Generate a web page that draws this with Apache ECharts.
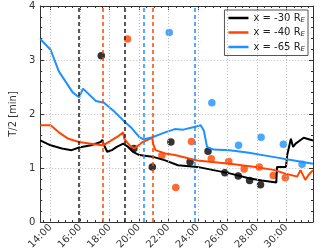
<!DOCTYPE html>
<html><head><meta charset="utf-8">
<script src="https://cdn.jsdelivr.net/npm/echarts@6/dist/echarts.min.js"></script>
<style>html,body{margin:0;padding:0;background:#fff}#c{width:320px;height:252px}</style>
</head><body><div id="c"></div>
<script>
// x in hours (UT, continuing past 24), y = T/2 in minutes
const xTicks = [14,16,18,20,22,24,26,28,30];
const xMinorTicks = [13.5,14.5,15,15.5,16.5,17,17.5,18.5,19,19.5,20.5,21,21.5,22.5,23,23.5,24.5,25,25.5,26.5,27,27.5,28.5,29,29.5,30.5,31,31.5];
const yTicks = [0,1,2,3,4];
const seriesNames = ['x = -30 R', 'x = -40 R', 'x = -65 R'];

const blackT = [13.3,14.0,14.77,15.43,15.93,16.74,17.4,17.51,17.6,17.84,18.16,18.49,18.93,19.26,19.59,20.02,20.9,21.77,22.64,23.95,25.05,26.15,27.45,28.33,29.31,29.36,29.97,30.05,30.3,30.45,30.62,31.17,31.8];
const blackV = [1.51,1.42,1.36,1.33,1.38,1.42,1.48,1.52,1.44,1.30,1.33,1.39,1.45,1.39,1.30,1.24,1.21,1.14,1.05,1.02,0.96,0.90,0.81,0.77,0.73,1.02,1.02,1.24,1.54,1.39,1.45,1.56,1.51];

const redT = [13.3,14.0,14.56,15.21,15.93,16.74,17.51,17.7,18.49,18.93,19.0,19.36,19.69,20.24,20.9,20.95,21.11,21.77,22.43,23.95,26.15,27.9,29.2,29.86,30.73,30.95,31.28,31.5,31.8];
const redV = [1.79,1.79,1.66,1.54,1.48,1.45,1.42,1.44,1.57,1.66,1.54,1.42,1.36,1.48,1.56,1.45,1.33,1.27,1.24,1.14,1.08,1.02,0.96,0.90,0.84,0.96,0.78,0.87,0.96];

const blueT = [13.3,14.0,14.56,15.5,15.93,16.2,17.07,17.62,18.38,19.04,19.5,20.02,20.3,20.9,21.77,22.43,23.0,23.74,24.18,24.4,24.61,25.05,26.15,27.45,28.98,30.51,31.8];
const blueV = [3.39,3.19,2.79,2.40,2.31,2.47,2.24,2.21,2.03,1.85,1.74,1.57,1.53,1.57,1.66,1.72,1.71,1.76,1.79,1.69,1.39,1.34,1.33,1.28,1.21,1.14,1.08];

const blackPtT = [17.44,19.65,20.9,22.16,23.46,24.68,25.82,26.73,27.5,28.24];
const blackPtV = [3.08,1.36,1.02,1.48,1.11,1.31,0.91,0.85,0.77,0.69];
const redPtT = [19.22,21.55,22.49,23.56,24.9,26.08,27.13,28.15,29.1,29.92];
const redPtV = [3.39,1.23,0.64,1.49,1.17,1.12,0.98,1.02,0.86,0.82];
const bluePtT = [22.05,24.94,26.75,28.28,29.79,31.06];
const bluePtV = [3.51,2.21,1.42,1.57,1.44,1.07];

const blackEvents = [15.91,19.0];
const redEvents = [17.51,20.9];
const blueEvents = [20.31,23.8];

const colors = ['#000000','#ff4500','#1e90ff'];
const pair = (t,v) => t.map((x,i)=>[x,v[i]]);

const font = 'DejaVu Sans';
const tickColor = '#333';

function events(list,color){
  return {type:'line',data:[],silent:true,
    markLine:{symbol:'none',silent:true,label:{show:false},animation:false,
      lineStyle:{color:color,type:[4,3],width:1.5},
      data:list.map(v=>({xAxis:v}))}};
}
function xTickAxis(pos,vals,len,showLine){
  return {type:'value',min:13.3,max:31.8,position:pos,
    axisLine:{show:showLine,onZero:false,lineStyle:{color:tickColor}},
    axisTick:{inside:true,length:len,lineStyle:{color:tickColor},customValues:vals},
    axisLabel:{show:false},splitLine:{show:false},minorTick:{show:false}};
}

const chart = echarts.init(document.getElementById('c'));
chart.setOption({
  animation:false,
  textStyle:{fontFamily:font},
  grid:{left:31,right:7,top:6,bottom:29},
  legend:{
    orient:'vertical',right:12,top:10,
    data:seriesNames.map(n=>({name:n,icon:'rect'})),
    itemWidth:20,itemHeight:2.5,itemGap:4,
    borderColor:'#555',borderWidth:1,padding:[3,3,3,4],
    backgroundColor:'#fff',
    textStyle:{fontSize:10,color:'#222',fontFamily:font,
      rich:{s:{fontSize:7,fontStyle:'italic',verticalAlign:'bottom',padding:[4,0,0,0]}}},
    formatter:n=>n+'{s|E}'
  },
  xAxis:[{
    type:'value',min:13.3,max:31.8,
    axisLine:{lineStyle:{color:tickColor,width:1}},
    axisTick:{inside:true,length:4,lineStyle:{color:tickColor},customValues:xTicks},
    minorTick:{show:false},
    splitLine:{show:false},
    axisLabel:{customValues:xTicks,rotate:45,fontSize:10,color:'#333',margin:4,
      formatter:v=>v+':00'}
  },
  xTickAxis('top',xTicks,4,true),
  xTickAxis('bottom',xMinorTicks,2,false),
  xTickAxis('top',xMinorTicks,2,false)
  ],
  yAxis:[{
    type:'value',min:0,max:4,interval:1,
    axisLine:{lineStyle:{color:tickColor,width:1}},
    axisTick:{inside:true,length:4,lineStyle:{color:tickColor}},
    minorTick:{show:true,splitNumber:5,length:2,lineStyle:{color:tickColor}},
    splitLine:{show:true,lineStyle:{color:'#bbb',type:[1,2],width:1}},
    name:'T/2 [min]',nameLocation:'middle',nameGap:17,
    nameTextStyle:{fontSize:10,color:'#333'},
    axisLabel:{fontSize:10,color:'#333',margin:5}
  },{
    type:'value',min:0,max:4,interval:1,position:'right',
    axisLine:{show:true,lineStyle:{color:tickColor}},
    axisTick:{inside:true,length:4,lineStyle:{color:tickColor}},
    minorTick:{show:true,splitNumber:5,length:2,lineStyle:{color:tickColor}},
    axisLabel:{show:false},splitLine:{show:false}
  }],
  series:[
    {type:'line',data:[],silent:true,
      markLine:{symbol:'none',silent:true,label:{show:false},
        lineStyle:{color:'#bbb',type:[1,2],width:1},
        data:xTicks.map(v=>({xAxis:v}))}},
    events(blackEvents,'#222'),
    events(redEvents,'#ff4500'),
    events(blueEvents,'#1e90ff'),
    {name:seriesNames[0],type:'line',data:pair(blackT,blackV),showSymbol:false,symbol:'none',
      lineStyle:{color:colors[0],width:2},itemStyle:{color:colors[0]}},
    {name:seriesNames[1],type:'line',data:pair(redT,redV),showSymbol:false,symbol:'none',
      lineStyle:{color:colors[1],width:2},itemStyle:{color:colors[1]}},
    {name:seriesNames[2],type:'line',data:pair(blueT,blueV),showSymbol:false,symbol:'none',
      lineStyle:{color:colors[2],width:2},itemStyle:{color:colors[2]}},
    {name:'p30',type:'scatter',data:pair(blackPtT,blackPtV),symbolSize:7.5,itemStyle:{color:colors[0]}},
    {name:'p40',type:'scatter',data:pair(redPtT,redPtV),symbolSize:7.5,itemStyle:{color:colors[1]}},
    {name:'p65',type:'scatter',data:pair(bluePtT,bluePtV),symbolSize:7.5,itemStyle:{color:colors[2]}}
  ]
});
</script></body></html>
